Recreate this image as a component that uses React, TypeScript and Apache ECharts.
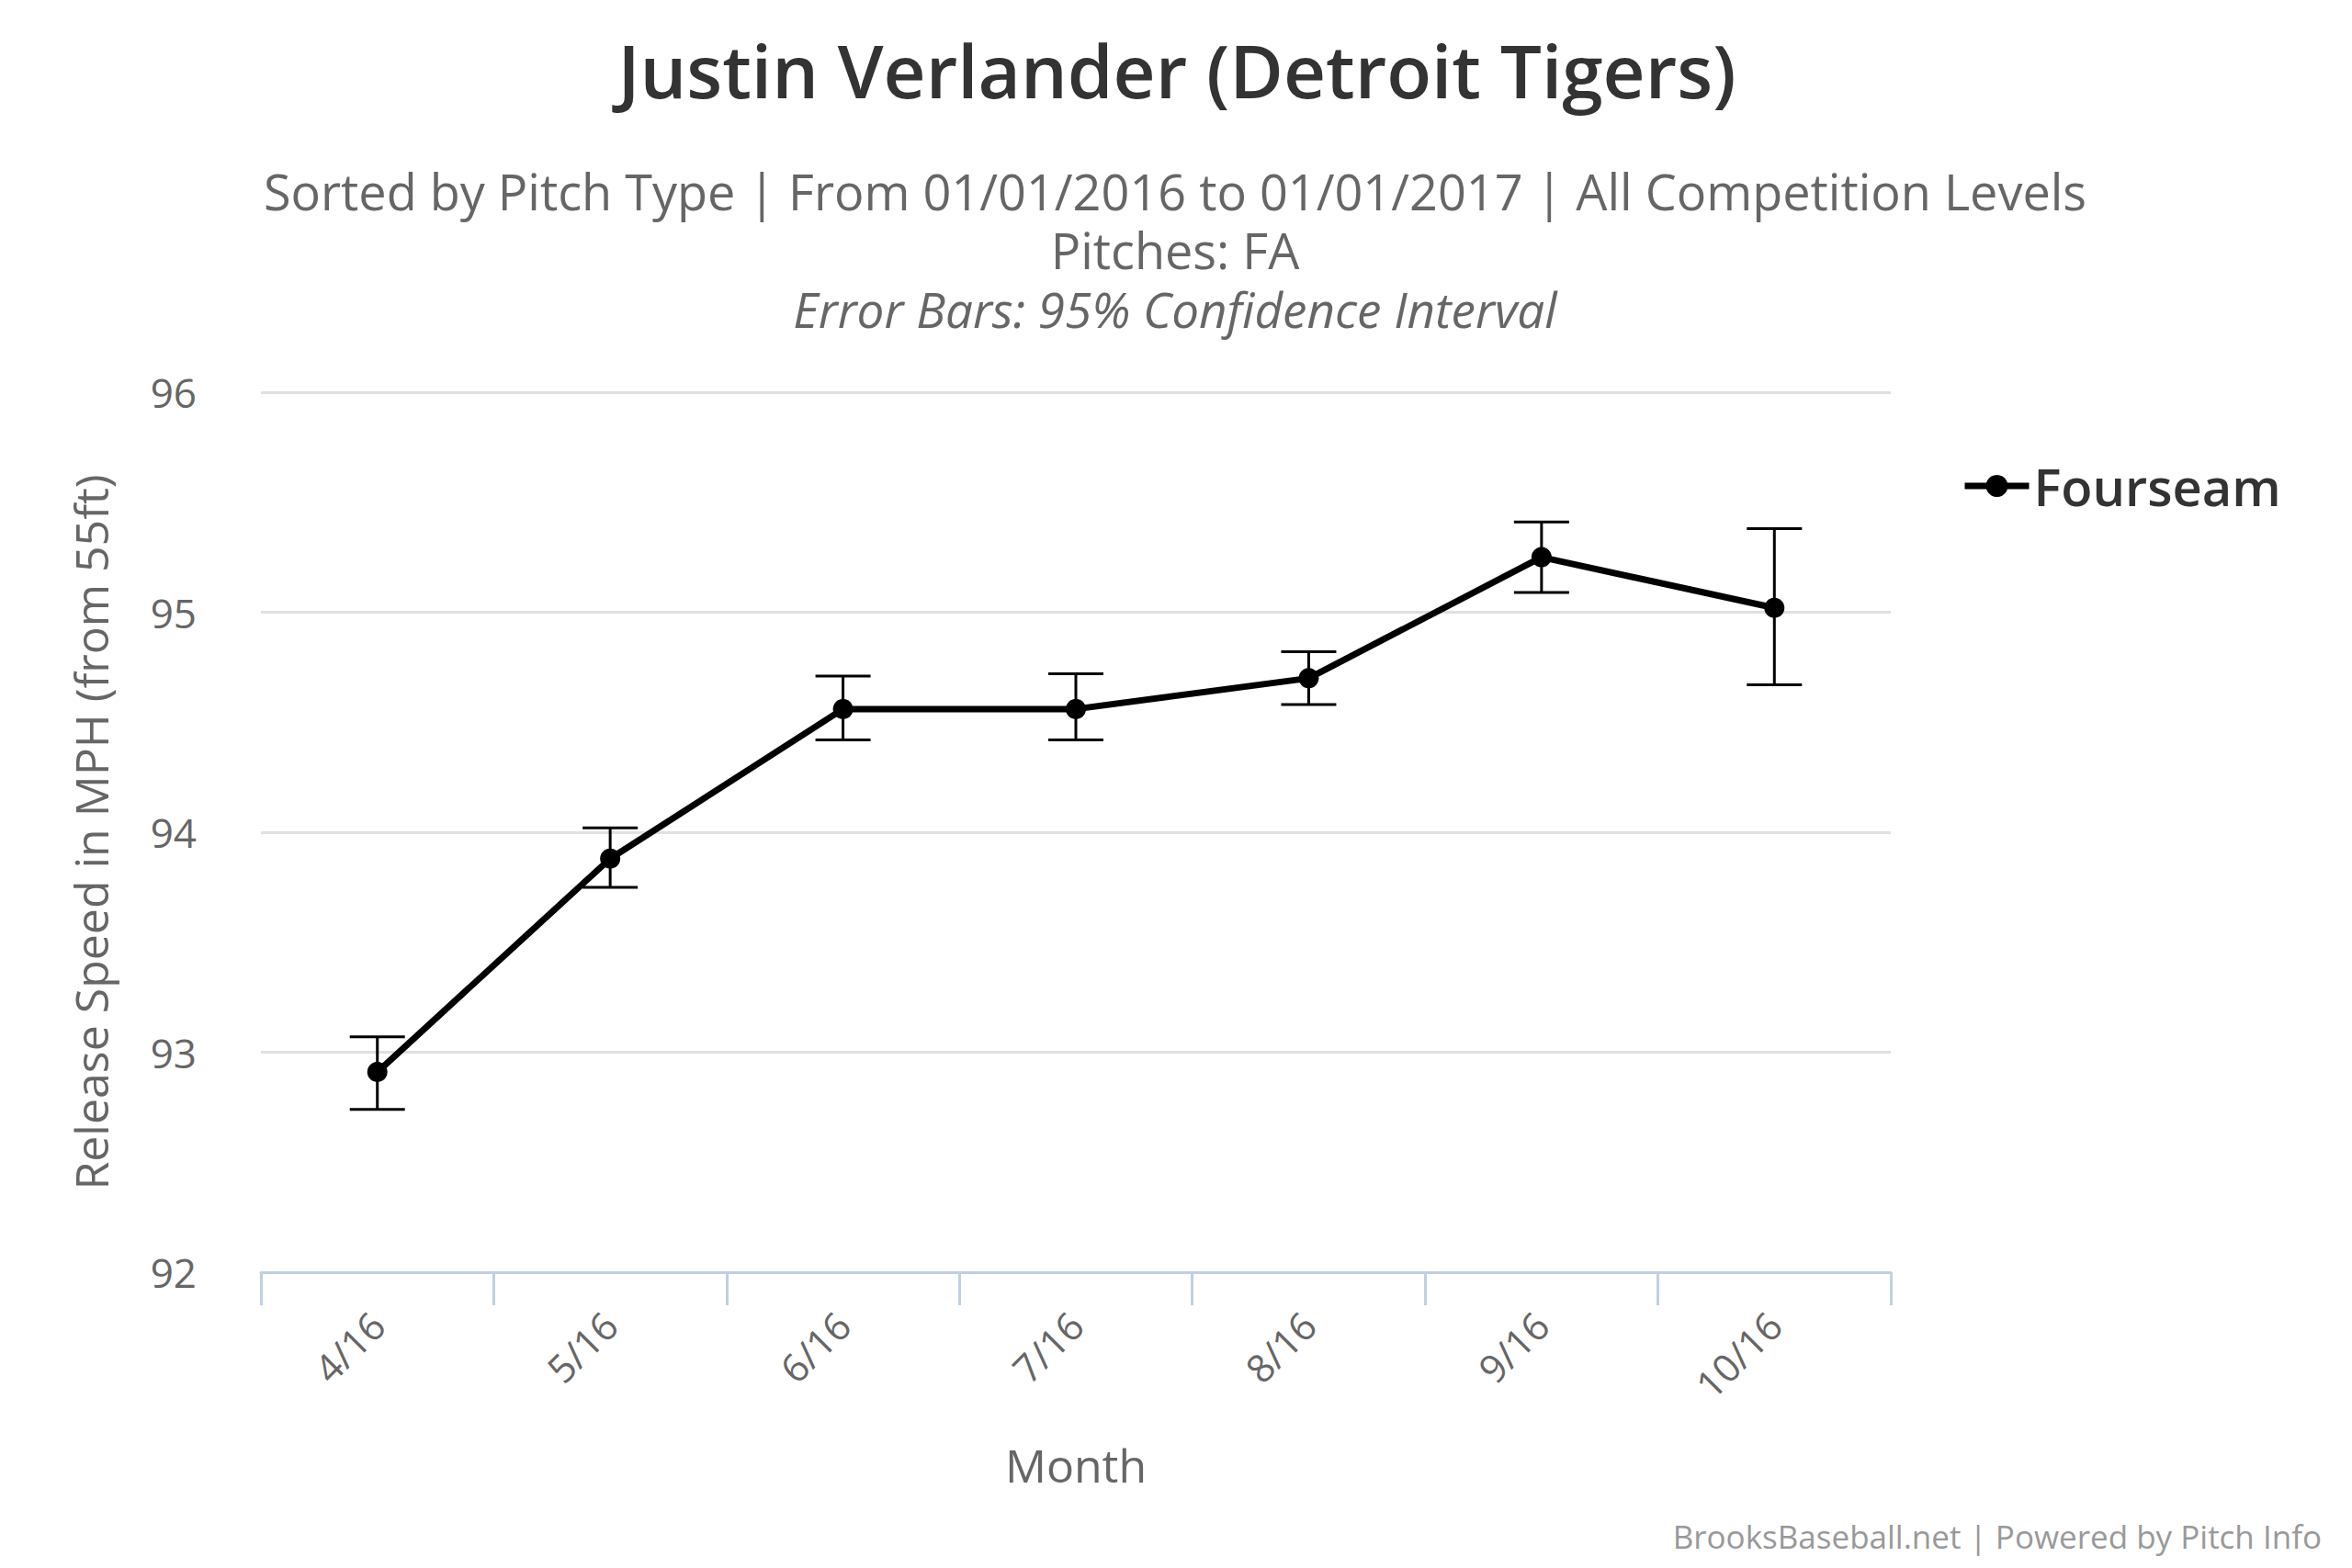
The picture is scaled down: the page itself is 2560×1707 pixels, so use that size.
import React, { useEffect, useRef } from "react";
import * as echarts from "echarts";

const months = ["4/16", "5/16", "6/16", "7/16", "8/16", "9/16", "10/16"];
const speed = [92.91, 93.88, 94.56, 94.56, 94.7, 95.25, 95.02];
const errLow = [92.74, 93.75, 94.42, 94.42, 94.58, 95.09, 94.67];
const errHigh = [93.07, 94.02, 94.71, 94.72, 94.82, 95.41, 95.38];

export default function App() {
  const ref = useRef<HTMLDivElement>(null);
  useEffect(() => {
    const chart = echarts.init(ref.current!, null, { renderer: "svg" });
    const font = "Open Sans";
    chart.setOption({
      animation: false,
      backgroundColor: "#fff",
      textStyle: { fontFamily: font },
      title: [
        { text: "Justin Verlander (Detroit Tigers)", left: 1268, top: 22, textAlign: "center",
          textStyle: { fontSize: 80, fontWeight: 600, color: "#333", fontFamily: font } },
        { text: "Sorted by Pitch Type | From 01/01/2016 to 01/01/2017 | All Competition Levels", left: 1266, top: 165, textAlign: "center",
          textStyle: { fontSize: 54, lineHeight: 60, fontWeight: "normal", color: "#666", fontFamily: font } },
        { text: "Pitches: FA", left: 1266, top: 229, textAlign: "center",
          textStyle: { fontSize: 54, lineHeight: 60, fontWeight: "normal", color: "#666", fontFamily: font } },
        { text: "Error Bars: 95% Confidence Interval", left: 1266, top: 293, textAlign: "center",
          textStyle: { fontSize: 53, lineHeight: 60, fontWeight: "normal", fontStyle: "italic", color: "#666", fontFamily: font } },
        { text: "BrooksBaseball.net | Powered by Pitch Info", right: 20, bottom: 4,
          textStyle: { fontSize: 35, fontWeight: "normal", color: "#999", fontFamily: font } },
      ],
      legend: {
        data: ["Fourseam"], left: 2122, top: 488, itemWidth: 70, itemHeight: 30,
        lineStyle: { width: 7 },
        textStyle: { fontSize: 56, fontWeight: 600, color: "#333", fontFamily: font },
      },
      grid: { left: 276, right: 494, top: 419, bottom: 314, containLabel: false },
      xAxis: {
        type: "category", data: months, boundaryGap: true,
        name: "Month", nameLocation: "middle", nameGap: 185,
        nameTextStyle: { fontSize: 50, color: "#666" },
        axisLine: { lineStyle: { color: "#c0d0e0", width: 3 } },
        axisTick: { show: true, length: 36, lineStyle: { color: "#c0d0e0", width: 3 } },
        axisLabel: { rotate: 45, fontSize: 42, color: "#666", margin: 50 },
      },
      yAxis: {
        type: "value", min: 92, max: 96, interval: 1,
        name: "Release Speed in MPH (from 55ft)", nameLocation: "middle", nameGap: 160,
        nameTextStyle: { fontSize: 50, color: "#666" },
        axisLine: { show: false }, axisTick: { show: false },
        axisLabel: { fontSize: 44, color: "#666", margin: 70 },
        splitLine: { lineStyle: { color: "#e0e0e0", width: 3 } },
      },
      series: [
        {
          name: "Fourseam", type: "line", data: speed, symbol: "circle", symbolSize: 22,
          lineStyle: { color: "#000", width: 7 }, itemStyle: { color: "#000" }, z: 3,
        },
        {
          type: "custom", z: 2,
          data: months.map((_, i) => [i, errLow[i], errHigh[i]]),
          renderItem: (params: any, api: any) => {
            const lo = api.coord([api.value(0), api.value(1)]);
            const hi = api.coord([api.value(0), api.value(2)]);
            const w = 30;
            const st = { stroke: "#000", lineWidth: 3 };
            return {
              type: "group",
              children: [
                { type: "line", shape: { x1: lo[0], y1: lo[1], x2: hi[0], y2: hi[1] }, style: st },
                { type: "line", shape: { x1: lo[0] - w, y1: lo[1], x2: lo[0] + w, y2: lo[1] }, style: st },
                { type: "line", shape: { x1: hi[0] - w, y1: hi[1], x2: hi[0] + w, y2: hi[1] }, style: st },
              ],
            };
          },
        },
      ],
    });
    return () => chart.dispose();
  }, []);
  return <div ref={ref} style={{ width: 2544, height: 1691 }} />;
}
